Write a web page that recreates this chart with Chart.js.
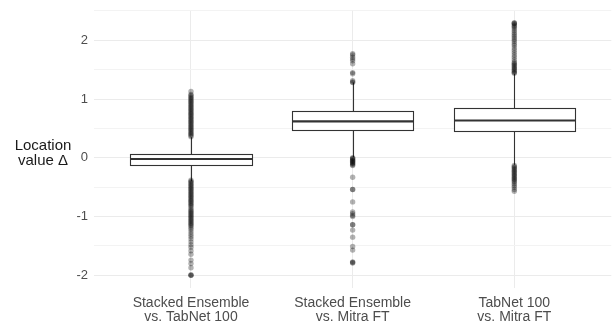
<!DOCTYPE html>
<html>
<head>
<meta charset="utf-8">
<script src="https://cdn.jsdelivr.net/npm/chart.js@4/dist/chart.umd.min.js"></script>
<style>
    body { margin: 0; background: #fff; }
    #wrap { width: 614px; height: 325px; position: relative; }
</style>
</head>
<body>
<div id="wrap"><canvas id="boxChart"></canvas></div>
<script>
const categories = [
    ["Stacked Ensemble", "vs. TabNet 100"],
    ["Stacked Ensemble", "vs. Mitra FT"],
    ["TabNet 100", "vs. Mitra FT"],
];
const q1 = [-0.12, 0.48, 0.455];
const medians = [-0.02, 0.62, 0.635];
const q3 = [0.07, 0.805, 0.845];
const whiskerLow = [-0.4, 0.01, -0.12];
const whiskerHigh = [0.35, 1.28, 1.43];

const yTicks = [-2, -1.5, -1, -0.5, 0, 0.5, 1, 1.5, 2, 2.5];

// outliers, one list per box
const outliers1 = [
    1.13, 1.08, 1.06, 1.04, 1.02, 1.0, 0.98, 0.96, 0.94, 0.92, 0.9, 0.88, 0.86, 0.84,
    0.82, 0.8, 0.78, 0.76, 0.74, 0.72, 0.7, 0.68, 0.66, 0.64, 0.62, 0.6, 0.58, 0.56,
    0.54, 0.52, 0.5, 0.48, 0.46, 0.44, 0.42, 0.4, 0.38, 0.36,
    -0.38, -0.4, -0.42, -0.44, -0.46, -0.48, -0.5, -0.52, -0.54, -0.56, -0.58, -0.6,
    -0.62, -0.64, -0.66, -0.68, -0.7, -0.72, -0.74, -0.76, -0.78, -0.8, -0.82, -0.85,
    -0.88, -0.9, -0.92, -0.94, -0.96, -0.98, -1.0, -1.02, -1.04, -1.06, -1.08, -1.1,
    -1.12, -1.14, -1.16, -1.19, -1.22, -1.26, -1.3, -1.34, -1.38, -1.43, -1.48, -1.52,
    -1.58, -1.64, -1.74, -1.8, -1.87, -1.99, -2.0, -2.0,
];
const outliers2 = [
    1.77, 1.75, 1.71, 1.68, 1.65, 1.6, 1.45, 1.43, 1.31, 1.28, 1.29,
    0.0, -0.01, -0.02, -0.04, -0.05, -0.06, -0.08, -0.09, -0.1, -0.12, -0.13,
    -0.33, -0.54, -0.54, -0.75, -0.92, -0.95, -0.98, -1.0, -1.14, -1.14, -1.23,
    -1.35, -1.51, -1.57, -1.77, -1.78, -1.79,
];
const outliers3 = [
    2.3, 2.29, 2.28, 2.26, 2.24, 2.22, 2.19, 2.16, 2.13, 2.1, 2.07, 2.04, 2.01, 1.98,
    1.94, 1.91, 1.87, 1.83, 1.79, 1.75, 1.71, 1.67, 1.63, 1.61, 1.59, 1.57, 1.55, 1.53,
    1.51, 1.49, 1.47, 1.45, 1.44,
    -0.13, -0.15, -0.17, -0.19, -0.21, -0.23, -0.25, -0.27, -0.29, -0.31, -0.33, -0.35,
    -0.37, -0.39, -0.41, -0.44, -0.47, -0.5, -0.54, -0.57,
];

const BOX_HALF = 0.375;
const FONT = "'Liberation Sans', Arial, sans-serif";

// boxes, whiskers and medians, drawn through the chart's own scales
const boxPlugin = {
    id: "boxes",
    beforeDatasetsDraw(chart) {
        const { ctx } = chart;
        const x = chart.scales.x;
        const y = chart.scales.y;
        ctx.save();
        ctx.strokeStyle = "#333333";
        for (let i = 0; i < categories.length; i++) {
            const cx = Math.round(x.getPixelForValue(i + 1)) + 0.5;
            const left = Math.round(x.getPixelForValue(i + 1 - BOX_HALF)) + 0.5;
            const right = Math.round(x.getPixelForValue(i + 1 + BOX_HALF)) + 0.5;
            const top = Math.round(y.getPixelForValue(q3[i])) + 0.5;
            const bottom = Math.round(y.getPixelForValue(q1[i])) + 0.5;

            ctx.lineWidth = 1.1;
            ctx.beginPath();
            ctx.moveTo(cx, y.getPixelForValue(whiskerHigh[i]));
            ctx.lineTo(cx, top);
            ctx.moveTo(cx, bottom);
            ctx.lineTo(cx, y.getPixelForValue(whiskerLow[i]));
            ctx.stroke();

            ctx.fillStyle = "#ffffff";
            ctx.fillRect(left, top, right - left, bottom - top);
            ctx.strokeRect(left, top, right - left, bottom - top);

            ctx.lineWidth = 2.2;
            const my = y.getPixelForValue(medians[i]);
            ctx.beginPath();
            ctx.moveTo(left, my);
            ctx.lineTo(right, my);
            ctx.stroke();
        }
        ctx.restore();
    },
    afterDraw(chart) {
        const { ctx, chartArea } = chart;
        const mid = (chartArea.top + chartArea.bottom) / 2;
        ctx.save();
        ctx.fillStyle = "#1a1a1a";
        ctx.font = "15px " + FONT;
        ctx.textAlign = "center";
        ctx.textBaseline = "alphabetic";
        ctx.fillText("Location", 43, mid + 0.5);
        ctx.fillText("value Δ", 43, mid + 16);
        ctx.restore();
    },
};

const pointStyle = {
    type: "scatter",
    pointRadius: 2.7,
    pointHoverRadius: 2.7,
    borderWidth: 0,
    backgroundColor: "rgba(0, 0, 0, 0.3)",
};

const ctx = document.getElementById("boxChart").getContext("2d");
const boxChart = new Chart(ctx, {
    type: "scatter",
    data: {
        datasets: [
            { ...pointStyle, data: outliers1.map((v) => ({ x: 1, y: v })) },
            { ...pointStyle, data: outliers2.map((v) => ({ x: 2, y: v })) },
            { ...pointStyle, data: outliers3.map((v) => ({ x: 3, y: v })) },
        ],
    },
    options: {
        responsive: true,
        maintainAspectRatio: false,
        animation: false,
        layout: { padding: { top: 10, right: 2, left: 0, bottom: 0 } },
        plugins: {
            legend: { display: false },
            tooltip: { enabled: false },
        },
        scales: {
            x: {
                type: "linear",
                min: 0.4,
                max: 3.6,
                afterBuildTicks: (scale) => {
                    scale.ticks = categories.map((c, i) => ({ value: i + 1 }));
                },
                afterFit: (scale) => {
                    scale.height = 37;
                    scale.paddingLeft = 0;
                    scale.paddingRight = 0;
                },
                ticks: {
                    callback: (v) => categories[Math.round(v) - 1],
                    color: "#4d4d4d",
                    font: { family: FONT, size: 14, lineHeight: 1.0 },
                    padding: 8,
                    maxRotation: 0,
                    autoSkip: false,
                },
                grid: { color: "#ebebeb", lineWidth: 1, drawTicks: false },
                border: { display: false },
            },
            y: {
                min: -2.215,
                max: 2.515,
                afterBuildTicks: (scale) => {
                    scale.ticks = yTicks.map((v) => ({ value: v }));
                },
                afterFit: (scale) => {
                    scale.width = 94;
                    scale.paddingTop = 0;
                    scale.paddingBottom = 0;
                },
                ticks: {
                    callback: (v) => (Number.isInteger(v) ? String(v) : ""),
                    color: "#4d4d4d",
                    font: { family: FONT, size: 13 },
                    padding: 6,
                },
                grid: {
                    color: (c) => (Number.isInteger(c.tick.value) ? "#ebebeb" : "#f3f3f3"),
                    lineWidth: 1,
                    drawTicks: false,
                },
                border: { display: false },
            },
        },
    },
    plugins: [boxPlugin],
});
</script>
</body>
</html>
